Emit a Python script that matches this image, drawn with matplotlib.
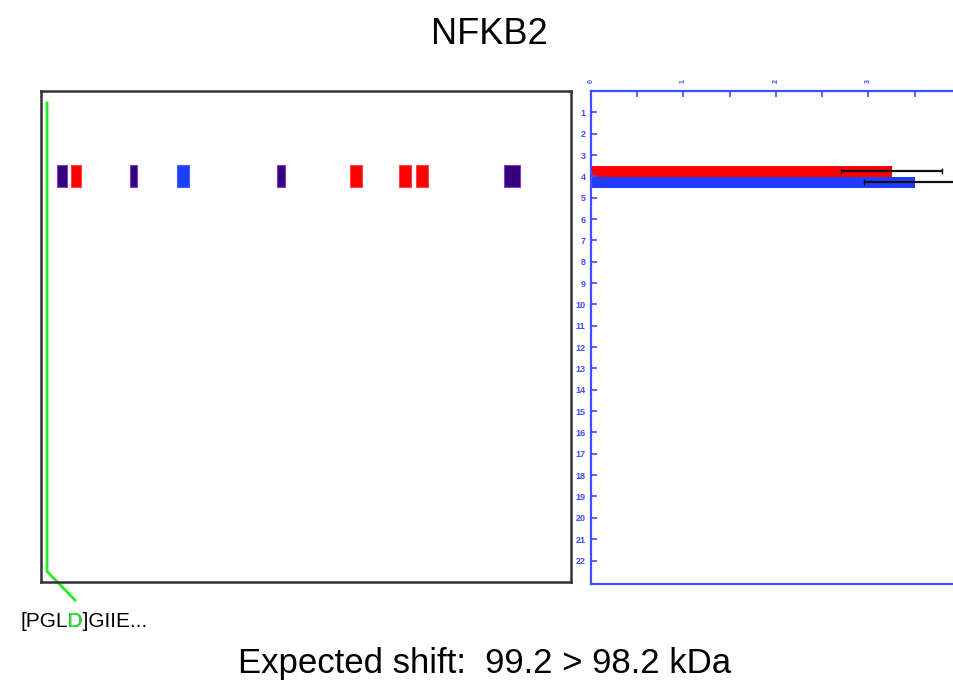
import matplotlib
matplotlib.use("Agg")
import matplotlib.pyplot as plt
from matplotlib.patches import Rectangle
from matplotlib.transforms import Bbox, TransformedBbox, IdentityTransform

plt.rcParams['font.family'] = ['Liberation Sans', 'DejaVu Sans']

# ---- data ----
title = "NFKB2"
footer = "Expected shift:  99.2 > 98.2 kDa"
seq_pre, seq_hit, seq_post = "[PGL", "D", "]GIIE..."

slices = list(range(1, 23))                 # gel slices 1..22
xticks_major = [0, 1, 2, 3]

bar_slice = 4
red_value, red_err = 3.25, 0.55
blue_value, blue_err = 3.50, 0.55

# peptide markers in left panel: (start, end, colour key), slice
pep_start = [16, 30, 89, 136, 236, 309, 358, 375, 463]
pep_end   = [26, 40, 96, 148, 244, 321, 370, 387, 479]
pep_kind  = ["p", "r", "p", "b", "p", "r", "r", "r", "p"]
pep_slice = 4

RED = "#ff0000"
BLUE = "#1f3dff"
PURPLE = "#32007e"
AXBLUE = "#3d4dff"
GREEN = "#22ee22"
colors = {"r": RED, "b": BLUE, "p": PURPLE}
edges = {"r": "#ff4040", "b": "#4060ff", "p": "#8a3cc8"}

W, H = 954, 687
fig = plt.figure(figsize=(W / 100, H / 100), dpi=100)

def box(x0, y0, x1, y1):
    return [x0 / W, 1 - y1 / H, (x1 - x0) / W, (y1 - y0) / H]

ylim = (23.1, 0)

# ---- left panel ----
axL = fig.add_axes(box(41, 91, 571, 582))
axL.set_xlim(0, 530)
axL.set_ylim(*ylim)
axL.set_xticks([]); axL.set_yticks([])
for s in axL.spines.values():
    s.set_color("#333333"); s.set_linewidth(1.8)
for a, b, k in zip(pep_start, pep_end, pep_kind):
    axL.add_patch(Rectangle((a, pep_slice - 0.52), b - a, 1.04,
                            facecolor=colors[k], edgecolor=edges[k], lw=0.8))
# green sequence line
axL.plot([6, 6, 34], [0.56, 22.6, 23.95], color=GREEN, lw=2, clip_on=False,
         solid_joinstyle="miter")

# ---- right panel ----
axR = fig.add_axes(box(591, 91, 961, 584))
axR.set_xlim(0, 4)
axR.set_ylim(*ylim)
axR.barh(bar_slice - 0.24, red_value, height=0.5, color=RED,
         xerr=red_err, error_kw=dict(ecolor="#111111", lw=1.6, capsize=2, capthick=1))
axR.barh(bar_slice + 0.28, blue_value, height=0.5, color=BLUE,
         xerr=blue_err, error_kw=dict(ecolor="#111111", lw=1.6, capsize=2, capthick=1))
for s in axR.spines.values():
    s.set_color(AXBLUE); s.set_linewidth(1.6)
axR.xaxis.tick_top()
axR.set_xticks(xticks_major)
axR.set_xticks([0.5, 1.5, 2.5, 3.5], minor=True)
axR.set_xticklabels([str(v) for v in xticks_major], rotation=90, fontsize=5,
                    color=AXBLUE, fontweight="bold")
axR.set_yticks(slices)
axR.set_yticklabels([str(v) for v in slices], fontsize=6.5, color=AXBLUE,
                    fontweight="bold")
axR.tick_params(axis="both", which="both", direction="in", length=4, width=1.2,
                color=AXBLUE, pad=4)
axR.tick_params(axis="x", which="major", pad=6)

# ---- texts ----
fig.text(489 / W, 1 - 34 / H, title, ha="center", va="center", fontsize=26)
fig.text(485 / W, 1 - 663 / H, footer, ha="center", va="center", fontsize=25)

full = seq_pre + seq_hit + seq_post
sx, sy = 20 / W, 1 - 627 / H
fig.text(sx, sy, full, ha="left", va="baseline", fontsize=15, color="black")
fig.canvas.draw()
r = fig.canvas.get_renderer()
tA = fig.text(sx, sy, seq_pre, ha="left", va="baseline", fontsize=15, alpha=0)
tB = fig.text(sx, sy, seq_pre + seq_hit, ha="left", va="baseline", fontsize=15, alpha=0)
xa = tA.get_window_extent(renderer=r).x1
xb = tB.get_window_extent(renderer=r).x1
tG = fig.text(sx, sy, full, ha="left", va="baseline", fontsize=15, color=GREEN)
tG.set_clip_box(Bbox([[xa + 0.5, 0], [xb + 0.8, H]]))
tG.set_clip_on(True)

fig.savefig("out.png", dpi=100)
